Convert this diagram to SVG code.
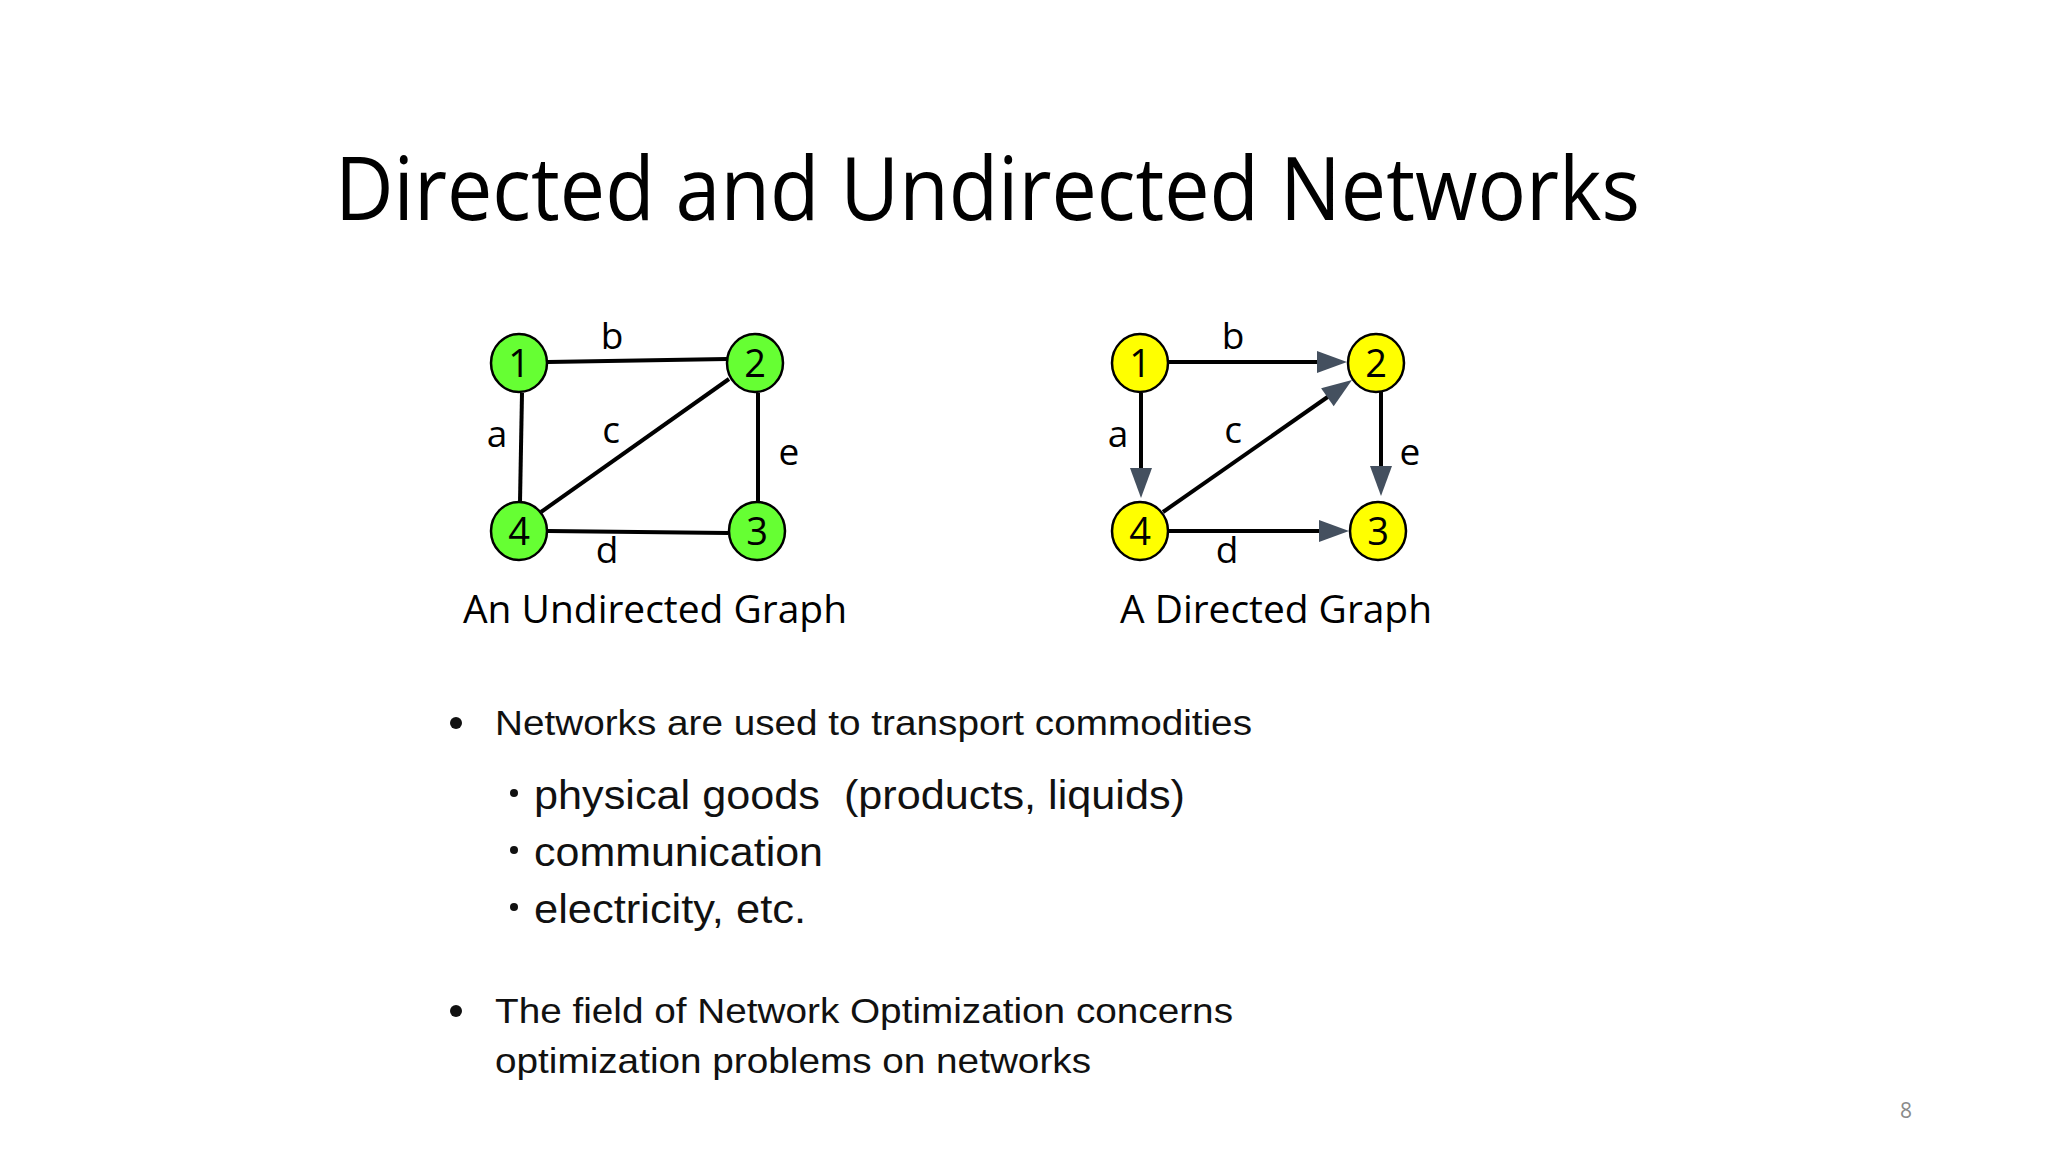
<svg xmlns="http://www.w3.org/2000/svg" width="2048" height="1152" viewBox="0 0 2048 1152">
<style>
.t{font-family:"Open Sans","Noto Sans",sans-serif;fill:#000}
.lbl{font-size:37px;text-anchor:middle}
.num{font-size:38px;text-anchor:middle}
.b{font-family:"Liberation Sans",Arial,sans-serif;fill:#111}
.e{stroke:#000;stroke-width:4;fill:none}
.g{fill:#66ff33;stroke:#000;stroke-width:2.5}
.y{fill:#ffff00;stroke:#000;stroke-width:2.5}
.ah{fill:#44505f}
</style>
<rect width="2048" height="1152" fill="#fff"/>
<text class="t" x="335" y="220" font-size="88" font-weight="500" textLength="1305" lengthAdjust="spacingAndGlyphs">Directed and Undirected Networks</text>
<g transform="translate(-5,-3)">
<g id="connectors">
<line class="e" x1="553" y1="365" x2="732" y2="362"/>
<line class="e" x1="527" y1="396" x2="525" y2="505"/>
<line class="e" x1="546" y1="515" x2="734" y2="382"/>
<line class="e" x1="763" y1="396" x2="763" y2="505"/>
<line class="e" x1="553" y1="534" x2="733" y2="536"/>
<line class="e" x1="1174" y1="365" x2="1324" y2="365"/>
<polygon class="ah" points="1352,365 1322,354 1322,376"/>
<line class="e" x1="1146" y1="396" x2="1146" y2="473"/>
<polygon class="ah" points="1146,501 1135,471 1157,471"/>
<line class="e" x1="1168" y1="515" x2="1334" y2="399"/>
<polygon class="ah" points="1357,383 1338.7,409.2 1326.1,391.2"/>
<line class="e" x1="1386" y1="390" x2="1386" y2="471"/>
<polygon class="ah" points="1386,499 1375,469 1397,469"/>
<line class="e" x1="1174" y1="534" x2="1326" y2="534"/>
<polygon class="ah" points="1354,534 1324,523 1324,545"/>
</g>
<g id="u1"><ellipse class="g" cx="524" cy="366" rx="28" ry="29"/><text class="t num" x="524" y="380">1</text></g>
<g id="u2"><ellipse class="g" cx="760" cy="366" rx="28" ry="29"/><text class="t num" x="760" y="380">2</text></g>
<g id="u4"><ellipse class="g" cx="524" cy="534" rx="28" ry="29"/><text class="t num" x="524" y="548">4</text></g>
<g id="u3"><ellipse class="g" cx="762" cy="534" rx="28" ry="29"/><text class="t num" x="762" y="548">3</text></g>
<g id="d1"><ellipse class="y" cx="1145" cy="366" rx="28" ry="29"/><text class="t num" x="1145" y="380">1</text></g>
<g id="d2"><ellipse class="y" cx="1381" cy="366" rx="28" ry="29"/><text class="t num" x="1381" y="380">2</text></g>
<g id="d4"><ellipse class="y" cx="1145" cy="534" rx="28" ry="29"/><text class="t num" x="1145" y="548">4</text></g>
<g id="d3"><ellipse class="y" cx="1383" cy="534" rx="28" ry="29"/><text class="t num" x="1383" y="548">3</text></g>
<g id="labels">
<text class="t lbl" x="617" y="352">b</text>
<text class="t lbl" x="502" y="450">a</text>
<text class="t lbl" x="616" y="446">c</text>
<text class="t lbl" x="794" y="468">e</text>
<text class="t lbl" x="612" y="566">d</text>
<text class="t lbl" x="1238" y="352">b</text>
<text class="t lbl" x="1123" y="450">a</text>
<text class="t lbl" x="1238" y="446">c</text>
<text class="t lbl" x="1415" y="468">e</text>
<text class="t lbl" x="1232" y="566">d</text>
<text class="t" x="468" y="626" font-size="38" textLength="384" lengthAdjust="spacingAndGlyphs">An Undirected Graph</text>
<text class="t" x="1125" y="626" font-size="38" textLength="312" lengthAdjust="spacingAndGlyphs">A Directed Graph</text>
</g>
</g>
<g id="bullets">
<circle cx="456" cy="723" r="6" fill="#111"/>
<text class="b" x="495" y="735" font-size="35" textLength="757" lengthAdjust="spacingAndGlyphs">Networks are used to transport commodities</text>
<circle cx="514" cy="793" r="4" fill="#111"/>
<text class="b" x="534" y="809" font-size="40" textLength="651" lengthAdjust="spacingAndGlyphs" xml:space="preserve">physical goods  (products, liquids)</text>
<circle cx="514" cy="850" r="4" fill="#111"/>
<text class="b" x="534" y="866" font-size="40" textLength="289" lengthAdjust="spacingAndGlyphs">communication</text>
<circle cx="514" cy="907" r="4" fill="#111"/>
<text class="b" x="534" y="923" font-size="40" textLength="272" lengthAdjust="spacingAndGlyphs">electricity, etc.</text>
<circle cx="456" cy="1011" r="6" fill="#111"/>
<text class="b" x="495" y="1023" font-size="35" textLength="738" lengthAdjust="spacingAndGlyphs">The field of Network Optimization concerns</text>
<text class="b" x="495" y="1073" font-size="35" textLength="596" lengthAdjust="spacingAndGlyphs">optimization problems on networks</text>
</g>
<text x="1906" y="1118" font-family="Open Sans,sans-serif" font-size="21" fill="#8a8a8a" text-anchor="middle">8</text>
</svg>
